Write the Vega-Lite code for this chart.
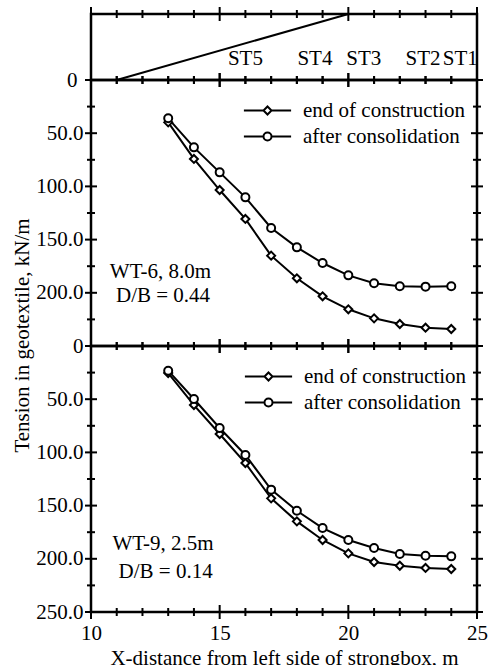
{
  "$schema": "https://vega.github.io/schema/vega-lite/v6.json",
  "background": "white",
  "padding": {"left": 9, "top": 5, "right": 20, "bottom": 0},
  "spacing": 0,
  "bounds": "flush",
  "resolve": {
    "scale": {"y": "independent", "color": "independent"},
    "legend": {"color": "independent"}
  },
  "datasets": {
    "emb": [{"x": 11, "h": 0}, {"x": 20, "h": 1}, {"x": 25, "h": 1}],
    "st": [
      {"x": 16.0, "y": 0.32, "label": "ST5"},
      {"x": 18.7, "y": 0.32, "label": "ST4"},
      {"x": 20.6, "y": 0.32, "label": "ST3"},
      {"x": 22.9, "y": 0.32, "label": "ST2"},
      {"x": 24.35, "y": 0.32, "label": "ST1"}
    ],
    "xticks": [{"v": 10}, {"v": 11}, {"v": 12}, {"v": 13}, {"v": 14}, {"v": 15}, {"v": 16}, {"v": 17}, {"v": 18}, {"v": 19}, {"v": 20}, {"v": 21}, {"v": 22}, {"v": 23}, {"v": 24}, {"v": 25}],
    "yticks": [{"v": 0}, {"v": 25}, {"v": 50}, {"v": 75}, {"v": 100}, {"v": 125}, {"v": 150}, {"v": 175}, {"v": 200}, {"v": 225}, {"v": 250}],
    "wt6": [
      {"x": 13, "t": 39.8, "series": "end of construction"},
      {"x": 14, "t": 74.2, "series": "end of construction"},
      {"x": 15, "t": 103.4, "series": "end of construction"},
      {"x": 16, "t": 130.6, "series": "end of construction"},
      {"x": 17, "t": 165.1, "series": "end of construction"},
      {"x": 18, "t": 186.4, "series": "end of construction"},
      {"x": 19, "t": 203.3, "series": "end of construction"},
      {"x": 20, "t": 215.5, "series": "end of construction"},
      {"x": 21, "t": 224.0, "series": "end of construction"},
      {"x": 22, "t": 229.3, "series": "end of construction"},
      {"x": 23, "t": 232.8, "series": "end of construction"},
      {"x": 24, "t": 234.0, "series": "end of construction"},
      {"x": 13, "t": 36.0, "series": "after consolidation"},
      {"x": 14, "t": 63.3, "series": "after consolidation"},
      {"x": 15, "t": 86.8, "series": "after consolidation"},
      {"x": 16, "t": 110.3, "series": "after consolidation"},
      {"x": 17, "t": 139.1, "series": "after consolidation"},
      {"x": 18, "t": 157.3, "series": "after consolidation"},
      {"x": 19, "t": 172.0, "series": "after consolidation"},
      {"x": 20, "t": 183.6, "series": "after consolidation"},
      {"x": 21, "t": 191.1, "series": "after consolidation"},
      {"x": 22, "t": 193.9, "series": "after consolidation"},
      {"x": 23, "t": 194.2, "series": "after consolidation"},
      {"x": 24, "t": 193.9, "series": "after consolidation"}
    ],
    "wt9": [
      {"x": 13, "t": 25.4, "series": "end of construction"},
      {"x": 14, "t": 55.5, "series": "end of construction"},
      {"x": 15, "t": 82.7, "series": "end of construction"},
      {"x": 16, "t": 110.0, "series": "end of construction"},
      {"x": 17, "t": 143.2, "series": "end of construction"},
      {"x": 18, "t": 164.8, "series": "end of construction"},
      {"x": 19, "t": 182.3, "series": "end of construction"},
      {"x": 20, "t": 194.9, "series": "end of construction"},
      {"x": 21, "t": 203.0, "series": "end of construction"},
      {"x": 22, "t": 206.5, "series": "end of construction"},
      {"x": 23, "t": 208.6, "series": "end of construction"},
      {"x": 24, "t": 209.6, "series": "end of construction"},
      {"x": 13, "t": 23.2, "series": "after consolidation"},
      {"x": 14, "t": 49.8, "series": "after consolidation"},
      {"x": 15, "t": 77.1, "series": "after consolidation"},
      {"x": 16, "t": 102.4, "series": "after consolidation"},
      {"x": 17, "t": 135.0, "series": "after consolidation"},
      {"x": 18, "t": 154.8, "series": "after consolidation"},
      {"x": 19, "t": 171.1, "series": "after consolidation"},
      {"x": 20, "t": 182.3, "series": "after consolidation"},
      {"x": 21, "t": 189.8, "series": "after consolidation"},
      {"x": 22, "t": 195.5, "series": "after consolidation"},
      {"x": 23, "t": 197.1, "series": "after consolidation"},
      {"x": 24, "t": 197.7, "series": "after consolidation"}
    ],
    "ann6": [
      {"x": 12.7, "t": 180.5, "label": "WT-6, 8.0m"},
      {"x": 12.8, "t": 203, "label": "D/B = 0.44"}
    ],
    "ann9": [
      {"x": 12.8, "t": 186, "label": "WT-9, 2.5m"},
      {"x": 12.9, "t": 212, "label": "D/B = 0.14"}
    ]
  },
  "vconcat": [
    {
      "width": 386,
      "height": 66,
      "resolve": {"axis": {"x": "independent", "y": "independent"}},
      "layer": [
        {
          "data": {"name": "emb"},
          "mark": {"type": "line", "stroke": "black", "strokeWidth": 2},
          "encoding": {
            "x": {"field": "x", "type": "quantitative", "scale": {"domain": [10, 25], "nice": false, "zero": false},
              "axis": {"orient": "bottom", "values": [10, 15, 20, 25], "labels": false, "title": null}},
            "y": {"field": "h", "type": "quantitative", "scale": {"domain": [0, 1], "nice": false, "zero": false},
              "axis": {"orient": "left", "values": [0], "labelPadding": 14, "title": null}}
          }
        },
        {
          "data": {"name": "st"},
          "mark": {"type": "text", "font": "Liberation Serif", "fontSize": 21, "color": "black"},
          "encoding": {
            "x": {"field": "x", "type": "quantitative", "axis": null},
            "y": {"field": "y", "type": "quantitative", "axis": null},
            "text": {"field": "label"}
          }
        },
        {
          "data": {"name": "xticks"},
          "mark": {"type": "tick", "orient": "vertical", "color": "black", "opacity": 1, "thickness": 2},
          "encoding": {
            "x": {"field": "v", "type": "quantitative", "axis": null},
            "y": {"datum": 0, "type": "quantitative", "axis": null},
            "size": {"condition": {"test": "datum.v % 5 === 0", "value": 14}, "value": 8}
          }
        },
        {
          "data": {"name": "xticks"},
          "mark": {"type": "tick", "orient": "vertical", "color": "black", "opacity": 1, "thickness": 2},
          "encoding": {
            "x": {"field": "v", "type": "quantitative", "axis": null},
            "y": {"datum": 1, "type": "quantitative", "axis": null},
            "size": {"condition": {"test": "datum.v % 5 === 0", "value": 14}, "value": 8}
          }
        }
      ]
    },
    {
      "width": 386,
      "height": 266,
      "resolve": {"axis": {"x": "independent", "y": "independent"}},
      "layer": [
        {
          "data": {"name": "wt6"},
          "mark": {"type": "line", "strokeWidth": 2},
          "encoding": {
            "x": {"field": "x", "type": "quantitative", "scale": {"domain": [10, 25], "nice": false, "zero": false},
              "axis": {"orient": "bottom", "values": [10, 15, 20, 25], "labels": false, "title": null}},
            "y": {"field": "t", "type": "quantitative", "scale": {"domain": [0, 250], "reverse": true, "nice": false},
              "axis": {"orient": "left", "values": [50, 100, 150, 200], "title": null, "format": ".1f", "labelPadding": 8}},
            "color": {"field": "series", "type": "nominal",
              "scale": {"domain": ["end of construction", "after consolidation"], "range": ["black", "black"]},
              "legend": {"orient": "none", "legendX": 166, "legendY": 20, "title": null, "padding": 0, "labelLimit": 0,
                "labelFont": "Liberation Serif", "labelFontSize": 21, "labelColor": "black", "labelOffset": 25,
                "symbolSize": 64, "symbolStrokeWidth": 2, "symbolStrokeColor": "black", "symbolFillColor": "white", "rowPadding": 4,
                "encode": {"symbols": {"update": {"shape": {"signal": "datum.value === 'end of construction' ? 'M-5.9,0L-1,0M1,0L5.9,0M0,-1L1,0L0,1L-1,0Z' : 'M-5.9,0L-1,0M1,0L5.9,0M1,0A1,1,0,1,1,-1,0A1,1,0,1,1,1,0Z'"}}}}}}
          }
        },
        {
          "data": {"name": "wt6"},
          "transform": [{"filter": "datum.series === 'end of construction'"}],
          "mark": {"type": "point", "shape": "diamond", "filled": true, "fill": "white", "stroke": "black", "strokeWidth": 2, "size": 64, "opacity": 1},
          "encoding": {
            "x": {"field": "x", "type": "quantitative", "axis": null},
            "y": {"field": "t", "type": "quantitative", "axis": null}
          }
        },
        {
          "data": {"name": "wt6"},
          "transform": [{"filter": "datum.series === 'after consolidation'"}],
          "mark": {"type": "point", "shape": "circle", "filled": true, "fill": "white", "stroke": "black", "strokeWidth": 2, "size": 64, "opacity": 1},
          "encoding": {
            "x": {"field": "x", "type": "quantitative", "axis": null},
            "y": {"field": "t", "type": "quantitative", "axis": null}
          }
        },
        {
          "data": {"name": "ann6"},
          "mark": {"type": "text", "font": "Liberation Serif", "fontSize": 21, "color": "black"},
          "encoding": {
            "x": {"field": "x", "type": "quantitative", "axis": null},
            "y": {"field": "t", "type": "quantitative", "axis": null},
            "text": {"field": "label"}
          }
        },
        {
          "data": {"name": "xticks"},
          "mark": {"type": "tick", "orient": "vertical", "color": "black", "opacity": 1, "thickness": 2},
          "encoding": {
            "x": {"field": "v", "type": "quantitative", "axis": null},
            "y": {"datum": 0, "type": "quantitative", "axis": null},
            "size": {"condition": {"test": "datum.v % 5 === 0", "value": 14}, "value": 8}
          }
        },
        {
          "data": {"name": "xticks"},
          "mark": {"type": "tick", "orient": "vertical", "color": "black", "opacity": 1, "thickness": 2},
          "encoding": {
            "x": {"field": "v", "type": "quantitative", "axis": null},
            "y": {"datum": 250, "type": "quantitative", "axis": null},
            "size": {"condition": {"test": "datum.v % 5 === 0", "value": 14}, "value": 8}
          }
        },
        {
          "data": {"name": "yticks"},
          "mark": {"type": "tick", "orient": "horizontal", "color": "black", "opacity": 1, "thickness": 2},
          "encoding": {
            "y": {"field": "v", "type": "quantitative", "axis": null},
            "x": {"datum": 10, "type": "quantitative", "axis": null},
            "size": {"condition": {"test": "datum.v % 50 === 0", "value": 12}, "value": 8}
          }
        },
        {
          "data": {"name": "yticks"},
          "mark": {"type": "tick", "orient": "horizontal", "color": "black", "opacity": 1, "thickness": 2},
          "encoding": {
            "y": {"field": "v", "type": "quantitative", "axis": null},
            "x": {"datum": 25, "type": "quantitative", "axis": null},
            "size": {"condition": {"test": "datum.v % 50 === 0", "value": 12}, "value": 8}
          }
        }
      ]
    },
    {
      "width": 386,
      "height": 266,
      "resolve": {"axis": {"x": "independent", "y": "independent"}},
      "layer": [
        {
          "data": {"name": "wt9"},
          "mark": {"type": "line", "strokeWidth": 2},
          "encoding": {
            "x": {"field": "x", "type": "quantitative", "scale": {"domain": [10, 25], "nice": false, "zero": false},
              "axis": {"orient": "bottom", "values": [10, 15, 20, 25], "title": "X-distance from left side of strongbox, m", "labelPadding": 10, "titlePadding": 4}},
            "y": {"field": "t", "type": "quantitative", "scale": {"domain": [0, 250], "reverse": true, "nice": false},
              "axis": {"orient": "left", "values": [0, 50, 100, 150, 200, 250], "title": "Tension in geotextile, kN/m",
                "titleX": -63, "titleY": -11, "titleBaseline": "alphabetic", "titleAlign": "center", "titleAngle": -90,
                "labelExpr": "datum.value === 0 ? '0' : format(datum.value, '.1f')", "labelPadding": 8}},
            "color": {"field": "series", "type": "nominal",
              "scale": {"domain": ["end of construction", "after consolidation"], "range": ["black", "black"]},
              "legend": {"orient": "none", "legendX": 167, "legendY": 20, "title": null, "padding": 0, "labelLimit": 0,
                "labelFont": "Liberation Serif", "labelFontSize": 21, "labelColor": "black", "labelOffset": 25,
                "symbolSize": 64, "symbolStrokeWidth": 2, "symbolStrokeColor": "black", "symbolFillColor": "white", "rowPadding": 4,
                "encode": {"symbols": {"update": {"shape": {"signal": "datum.value === 'end of construction' ? 'M-5.9,0L-1,0M1,0L5.9,0M0,-1L1,0L0,1L-1,0Z' : 'M-5.9,0L-1,0M1,0L5.9,0M1,0A1,1,0,1,1,-1,0A1,1,0,1,1,1,0Z'"}}}}}}
          }
        },
        {
          "data": {"name": "wt9"},
          "transform": [{"filter": "datum.series === 'end of construction'"}],
          "mark": {"type": "point", "shape": "diamond", "filled": true, "fill": "white", "stroke": "black", "strokeWidth": 2, "size": 64, "opacity": 1},
          "encoding": {
            "x": {"field": "x", "type": "quantitative", "axis": null},
            "y": {"field": "t", "type": "quantitative", "axis": null}
          }
        },
        {
          "data": {"name": "wt9"},
          "transform": [{"filter": "datum.series === 'after consolidation'"}],
          "mark": {"type": "point", "shape": "circle", "filled": true, "fill": "white", "stroke": "black", "strokeWidth": 2, "size": 64, "opacity": 1},
          "encoding": {
            "x": {"field": "x", "type": "quantitative", "axis": null},
            "y": {"field": "t", "type": "quantitative", "axis": null}
          }
        },
        {
          "data": {"name": "ann9"},
          "mark": {"type": "text", "font": "Liberation Serif", "fontSize": 21, "color": "black"},
          "encoding": {
            "x": {"field": "x", "type": "quantitative", "axis": null},
            "y": {"field": "t", "type": "quantitative", "axis": null},
            "text": {"field": "label"}
          }
        },
        {
          "data": {"name": "xticks"},
          "mark": {"type": "tick", "orient": "vertical", "color": "black", "opacity": 1, "thickness": 2},
          "encoding": {
            "x": {"field": "v", "type": "quantitative", "axis": null},
            "y": {"datum": 0, "type": "quantitative", "axis": null},
            "size": {"condition": {"test": "datum.v % 5 === 0", "value": 14}, "value": 8}
          }
        },
        {
          "data": {"name": "xticks"},
          "mark": {"type": "tick", "orient": "vertical", "color": "black", "opacity": 1, "thickness": 2},
          "encoding": {
            "x": {"field": "v", "type": "quantitative", "axis": null},
            "y": {"datum": 250, "type": "quantitative", "axis": null},
            "size": {"condition": {"test": "datum.v % 5 === 0", "value": 14}, "value": 8}
          }
        },
        {
          "data": {"name": "yticks"},
          "mark": {"type": "tick", "orient": "horizontal", "color": "black", "opacity": 1, "thickness": 2},
          "encoding": {
            "y": {"field": "v", "type": "quantitative", "axis": null},
            "x": {"datum": 10, "type": "quantitative", "axis": null},
            "size": {"condition": {"test": "datum.v % 50 === 0", "value": 12}, "value": 8}
          }
        },
        {
          "data": {"name": "yticks"},
          "mark": {"type": "tick", "orient": "horizontal", "color": "black", "opacity": 1, "thickness": 2},
          "encoding": {
            "y": {"field": "v", "type": "quantitative", "axis": null},
            "x": {"datum": 25, "type": "quantitative", "axis": null},
            "size": {"condition": {"test": "datum.v % 50 === 0", "value": 12}, "value": 8}
          }
        }
      ]
    }
  ],
  "config": {
    "view": {"stroke": "black", "strokeWidth": 2.5},
    "axis": {
      "labelFont": "Liberation Serif", "titleFont": "Liberation Serif",
      "labelFontSize": 21, "titleFontSize": 21, "titleFontWeight": "normal",
      "labelColor": "black", "titleColor": "black", "ticks": false, "grid": false,
      "domain": false, "labelOverlap": false, "labelFlush": false
    },
    "line": {"color": "black"}
  }
}
